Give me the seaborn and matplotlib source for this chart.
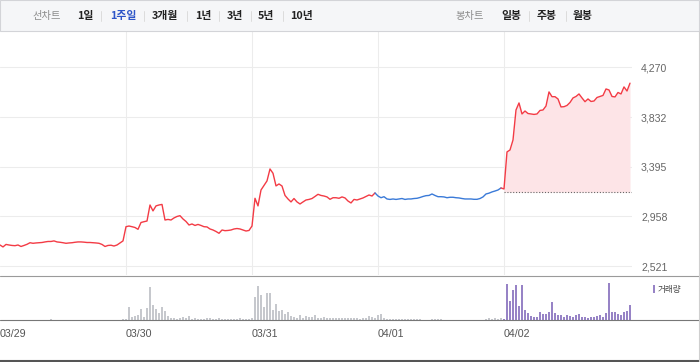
import numpy as np
import matplotlib
matplotlib.use("Agg")
import matplotlib.pyplot as plt
import seaborn as sns
from matplotlib.lines import Line2D
from matplotlib.patches import Rectangle

# one week of intraday prices, one list per trading day (samples every ~3px)
days = ["03/29", "03/30", "03/31", "04/01", "04/02"]

price_0329 = [2706, 2689, 2711, 2706, 2702, 2700, 2706, 2693, 2702, 2712, 2726, 2721, 2724, 2726,
              2728, 2733, 2737, 2737, 2742, 2733, 2730, 2726, 2721, 2724, 2726, 2730, 2733, 2733,
              2731, 2728, 2728, 2726, 2724, 2721, 2711, 2693, 2702, 2704, 2697, 2706, 2724, 2742]
price_0330 = [2867, 2873, 2867, 2860, 2844, 2904, 2911, 2917, 3058, 3006, 3050, 3058, 3063, 2926,
              2931, 2926, 2944, 2957, 2964, 2935, 2913, 2882, 2891, 2878, 2887, 2878, 2867, 2865,
              2847, 2838, 2825, 2809, 2838, 2832, 2834, 2838, 2847, 2851, 2847, 2838, 2829, 2834]
price_0331 = [2873, 3117, 3050, 3190, 3230, 3270, 3375, 3337, 3226, 3243, 3225, 3142, 3111, 3085,
              3115, 3085, 3067, 3085, 3102, 3107, 3115, 3133, 3152, 3142, 3137, 3129, 3108, 3122,
              3122, 3117, 3129, 3120, 3093, 3076, 3107, 3102, 3111, 3120, 3133, 3146, 3137, 3164]
price_0401 = [3137, 3122, 3131, 3111, 3107, 3111, 3107, 3111, 3115, 3107, 3111, 3111, 3115, 3117,
              3124, 3133, 3140, 3142, 3155, 3142, 3131, 3131, 3129, 3122, 3126, 3126, 3122, 3120,
              3115, 3111, 3111, 3111, 3108, 3108, 3115, 3129, 3155, 3162, 3173, 3181, 3190, 3208]
price_0402 = [3199, 3525, 3542, 3630, 3894, 3956, 3859, 3885, 3863, 3859, 3855, 3859, 3890, 3894,
              3929, 4053, 4011, 4011, 3991, 3921, 3923, 3934, 3960, 4000, 4013, 4035, 4000, 3967,
              3991, 3969, 3973, 4004, 4013, 4022, 4079, 4070, 4013, 4009, 4048, 4035, 4097, 4061, 4130]

vol_0329 = [0, 0, 0, 0, 0, 0, 0, 0, 0, 0, 0, 0, 0, 0, 0, 0, 0, 0.8, 0, 0, 0,
            0, 0, 0, 0, 0, 0, 0, 0, 0, 0, 0, 0, 0, 0, 0, 0, 0, 0, 0, 0, 0.7]
vol_0330 = [1, 12.7, 3, 3.3, 4.3, 11, 2.7, 12, 32.7, 14.3, 10.3, 7, 12.7, 8.7, 3.3, 2, 1.3, 1, 1.3, 2.7, 1.3,
            3.3, 1, 1.3, 1, 0.7, 1, 1.3, 2, 1, 0.7, 1.3, 1, 0.7, 1, 0.7, 1, 0.7, 1.3, 1, 0.7, 1]
vol_0331 = [1.3, 22.7, 33.3, 24.3, 12.7, 26.7, 26.7, 9.3, 16, 8.7, 9.3, 5.3, 7.7, 3.3, 2.7, 2, 4.3, 2, 3.7, 3, 3,
            4.3, 2, 1.7, 2.3, 1.7, 2, 1.3, 1.7, 2, 1.3, 1.7, 2, 1.3, 1.7, 1.3, 1, 1.3, 2, 3.3, 2.7, 1.3]
vol_0401 = [4.3, 5.3, 1.5, 1, 1, 0.7, 1, 0.7, 1, 0.7, 0.5, 0.7, 0.5, 0.5, 0.5, 0, 0, 0, 1, 0.7, 1,
            0.7, 0, 0, 0, 0, 0, 0, 0, 0, 0, 0, 0, 0, 0, 0, 1, 1.3, 1, 1.3, 1, 1.7]
vol_0402 = [1, 35.3, 18.7, 29.3, 34.3, 13.3, 34.3, 9.3, 6.7, 3.3, 2.7, 2.7, 7.7, 5.3, 6, 7.7, 17.7, 6.7,
            5, 4.3, 2.7, 4.3, 4, 2.7, 4.3, 6, 2.7, 2.7, 2, 2.7, 2.7, 3.3, 4.3, 2.7, 6.7, 36.7, 7.7,
            7.7, 6, 5, 7.7, 8.7, 14.3]

prev_close = 3171
y_ticks = [2521, 2958, 3395, 3832, 4270]
periods = ["1일", "1주일", "3개월", "1년", "3년", "5년", "10년"]
candles = ["일봉", "주봉", "월봉"]

RED = "#f33b45"
BLUE = "#3a7ad8"
PINK = "#fde4e7"
GRID = "#ececec"
W, H = 700, 362
PTS = 42  # samples per trading day


def fx(x):
    return x / W


def fy(y):
    return 1 - y / H


sns.set_style("white")
plt.rcParams["font.family"] = ["Liberation Sans", "DejaVu Sans"]
KR = ["Noto Sans CJK KR", "DejaVu Sans"]

fig = plt.figure(figsize=(7, 3.62), dpi=100)
fig.patch.set_facecolor("white")

ax = fig.add_axes([0, fy(275), fx(632), fy(31) - fy(275)])
axv = fig.add_axes([0, fy(319.5), fx(632), fy(277) - fy(319.5)])

prices = [price_0329, price_0330, price_0331, price_0401, price_0402]
vols = [vol_0329, vol_0330, vol_0331, vol_0401, vol_0402]
ts = [d + np.arange(len(p)) / PTS for d, p in enumerate(prices)]

# price line: red for the first three days, blue on 04/01, red again on 04/02
t_red = np.concatenate(ts[:3])
p_red = np.concatenate(prices[:3])
t_blue = np.concatenate([ts[2][-1:], ts[3]])
p_blue = np.concatenate([prices[2][-1:], prices[3]])
t_last = np.concatenate([ts[3][-1:], ts[4]])
p_last = np.concatenate([prices[3][-1:], prices[4]])

ax.fill_between(ts[4], prices[4], prev_close, color=PINK, lw=0, zorder=1)
ax.hlines(prev_close, ts[4][0], 632 / 126, colors="#666666", lw=0.8,
          linestyles=(0, (1, 1.6)), zorder=2)
sns.lineplot(x=t_red, y=p_red, ax=ax, color=RED, linewidth=1.0, zorder=3)
sns.lineplot(x=t_blue, y=p_blue, ax=ax, color=BLUE, linewidth=1.0, zorder=3)
sns.lineplot(x=t_last, y=p_last, ax=ax, color=RED, linewidth=1.0, zorder=3)

ax.set_xlim(0, 632 / 126)
ax.set_ylim(2442, 4589)
ax.set_yticks(y_ticks)
ax.set_yticklabels([f"{v:,}" for v in y_ticks])
ax.yaxis.tick_right()
ax.tick_params(axis="y", length=0, pad=6.5, labelsize=7.6, labelcolor="#666666")
ax.set_xticks([])
ax.grid(axis="y", color=GRID, lw=0.75)
ax.set_axisbelow(True)
for d in range(1, 5):
    ax.axvline(d, color=GRID, lw=0.75, zorder=0)
for s in ax.spines.values():
    s.set_visible(False)
ax.set_xlabel("")
ax.set_ylabel("")

# volume panel
for d, (t, v) in enumerate(zip(ts, vols)):
    axv.bar(t, v, width=1.3 / 126, color="#9783c6" if d == 4 else "#c6c8cd", lw=0)
axv.set_xlim(0, 632 / 126)
axv.set_ylim(0, 42.5)
axv.set_yticks([])
axv.set_xticks(range(len(days)))
axv.set_xticklabels(days)
axv.tick_params(axis="x", direction="out", length=3, width=0.8, color="#666666",
                pad=3.5, labelsize=7.7, labelcolor="#555555")
for lbl in axv.get_xticklabels():
    lbl.set_ha("left")
for s in axv.spines.values():
    s.set_visible(False)

axv.add_patch(Rectangle((0, 0), 1, 1, transform=fig.transFigure, fill=False, lw=0))
fig.patches.append(Rectangle((fx(652.8), fy(293)), fx(2.6), fy(285) - fy(293),
                             transform=fig.transFigure, color="#9783c6", lw=0))
fig.text(fx(657.5), fy(289.3), "거래량", family=KR, fontsize=6.2, color="#444444",
         ha="left", va="center")

# frame lines
fig.lines.append(Line2D([0, 1], [fy(275.5)] * 2, transform=fig.transFigure, color="#9a9a9a", lw=0.8))
fig.lines.append(Line2D([0, 1], [fy(319.5)] * 2, transform=fig.transFigure, color="#777777", lw=0.8))
fig.lines.append(Line2D([0, 1], [fy(360.8)] * 2, transform=fig.transFigure, color="#555555", lw=1.5))
fig.lines.append(Line2D([fx(698.5)] * 2, [fy(31), fy(362)], transform=fig.transFigure,
                        color="#cfcfcf", lw=0.8))

# toolbar
fig.patches.append(Rectangle((0, fy(30.5)), fx(698.5), fy(0) - fy(30.5), transform=fig.transFigure,
                             facecolor="#f5f6f8", edgecolor="#d3d4d8", lw=0.8))
ty = fy(16)
fig.text(fx(33), ty, "선차트", family=KR, fontsize=7.4, color="#8b8b8b", va="center")
period_x = [77, 110, 152, 195, 227, 258, 290]
for label, x in zip(periods, period_x):
    col = "#2d55c8" if label == "1주일" else "#222222"
    fig.text(fx(x), ty, label, family=KR, fontsize=7.8, fontweight="bold", color=col, va="center")
fig.text(fx(456), ty, "봉차트", family=KR, fontsize=7.4, color="#8b8b8b", va="center")
for label, x in zip(candles, [501, 537, 573]):
    fig.text(fx(x), ty, label, family=KR, fontsize=7.8, fontweight="bold", color="#222222", va="center")
for x in [101, 144, 187, 219, 251, 283, 529, 566]:
    fig.lines.append(Line2D([fx(x)] * 2, [fy(11), fy(21)], transform=fig.transFigure,
                            color="#dcdcdc", lw=0.7))

plt.savefig("out.png", dpi=100, facecolor="white")
plt.close()
